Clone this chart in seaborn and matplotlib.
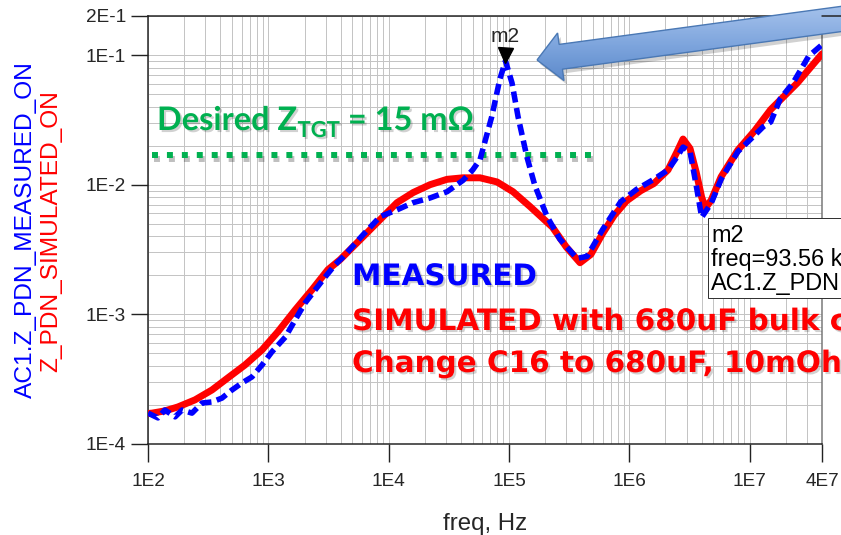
import matplotlib
matplotlib.use("Agg")
import matplotlib.pyplot as plt
import matplotlib.patheffects as pe
from matplotlib.patches import Polygon, Rectangle
from matplotlib.colors import LinearSegmentedColormap
from matplotlib.ticker import LogLocator, NullFormatter
import numpy as np
import pandas as pd
import seaborn as sns

sns.set_style("ticks")
plt.rcParams["font.family"] = ["Liberation Sans", "DejaVu Sans"]

PX = 0.72  # points per pixel at dpi=100

# ---- values ----
freq_sim = [100, 108, 138, 177, 246, 340, 462, 640, 887, 1200, 1670, 2310,
            3130, 3950, 6120, 8480, 1.175e4, 1.6e4, 2.21e4, 3.06e4, 4.15e4,
            5.75e4, 7.96e4, 1.08e5, 1.5e5, 2.3e5, 3.0e5, 3.9e5, 4.8e5, 6.0e5,
            7.5e5, 9.5e5, 1.25e6, 1.6e6, 2.1e6, 2.5e6, 2.8e6, 3.2e6, 3.6e6,
            4.0e6, 4.3e6, 4.8e6, 5.8e6, 8.0e6, 1.1e7, 1.5e7, 2.5e7, 4e7]
z_sim = [1.72e-4, 1.73e-4, 1.8e-4, 1.93e-4, 2.19e-4, 2.61e-4, 3.24e-4,
         4.07e-4, 5.32e-4, 7.33e-4, 1.08e-3, 1.55e-3, 2.21e-3, 2.64e-3,
         3.96e-3, 5.37e-3, 7.27e-3, 8.7e-3, 1.0e-2, 1.1e-2, 1.13e-2,
         1.13e-2, 1.05e-2, 8.83e-3, 6.77e-3, 4.7e-3, 3.3e-3, 2.5e-3, 2.9e-3,
         4.2e-3, 5.8e-3, 7.5e-3, 9.0e-3, 1.02e-2, 1.3e-2, 1.8e-2, 2.25e-2,
         1.9e-2, 1.25e-2, 8e-3, 6.6e-3, 7.6e-3, 1.15e-2, 1.85e-2, 2.6e-2,
         3.8e-2, 6.1e-2, 0.102]

freq_meas = [100, 121, 138, 168, 192, 232, 281, 340, 412, 499, 605, 731, 887,
             1070, 1390, 1670, 2030, 2460, 2980, 3600, 4200, 6120, 8480,
             1.175e4, 1.6e4, 2.21e4, 3.06e4, 4.15e4, 5.0e4, 5.75e4, 7.2e4,
             8.4e4, 9.356e4, 1.06e5, 1.19e5, 1.41e5, 1.64e5, 2.07e5, 2.65e5,
             3.68e5, 4.46e5, 6.0e5, 8.5e5, 1.15e6, 1.6e6, 2.1e6, 2.5e6, 2.8e6,
             3.2e6, 3.6e6, 4.0e6, 4.8e6, 5.8e6, 8.0e6, 1.1e7, 1.3e7, 1.5e7,
             1.8e7, 2.3e7, 3.1e7, 4e7]
z_meas = [1.73e-4, 1.59e-4, 1.83e-4, 1.62e-4, 1.83e-4, 1.73e-4, 2.07e-4,
          2.11e-4, 2.26e-4, 2.61e-4, 2.96e-4, 3.29e-4, 4.07e-4, 5.13e-4,
          6.7e-4, 9.05e-4, 1.23e-3, 1.55e-3, 1.95e-3, 2.42e-3, 2.78e-3,
          4.1e-3, 5.66e-3, 6.4e-3, 7.27e-3, 7.9e-3, 8.83e-3, 1.08e-2, 1.3e-2,
          1.56e-2, 3.35e-2, 6.5e-2, 0.09, 6.1e-2, 3.35e-2, 1.64e-2, 9.9e-3,
          5.7e-3, 3.8e-3, 2.7e-3, 2.8e-3, 4.5e-3, 7.4e-3, 9.2e-3, 1.1e-2,
          1.3e-2, 1.64e-2, 1.95e-2, 1.8e-2, 9.9e-3, 5.6e-3, 7.2e-3, 1.1e-2,
          1.8e-2, 2.4e-2, 2.8e-2, 3.05e-2, 4.6e-2, 6.1e-2, 9.8e-2, 0.12]

marker_freq = 93.56e3
marker_z = 0.1
ztgt_freq = [108, 4.9e5]
ztgt_z = [0.0168, 0.0168]

xtick_vals = [1e2, 1e3, 1e4, 1e5, 1e6, 1e7, 4e7]
xtick_labels = ["1E2", "1E3", "1E4", "1E5", "1E6", "1E7", "4E7"]
ytick_vals = [1e-4, 1e-3, 1e-2, 1e-1, 2e-1]
ytick_labels = ["1E-4", "1E-3", "1E-2", "1E-1", "2E-1"]

sim = pd.DataFrame({"freq": freq_sim, "z": z_sim})
meas = pd.DataFrame({"freq": freq_meas, "z": z_meas})

GREEN = "#00b050"
BLUE = "#0000ff"
RED = "#ff0000"

fig = plt.figure(figsize=(8.41, 5.35), dpi=100)
ax = fig.add_axes([148 / 841, 91 / 535, 674 / 841, 428 / 535])
ax.set_xscale("log")
ax.set_yscale("log")

sns.lineplot(data=sim, x="freq", y="z", ax=ax, color=RED, lw=5.0,
             estimator=None, sort=False, solid_capstyle="round",
             solid_joinstyle="round", zorder=3)
sns.lineplot(data=meas, x="freq", y="z", ax=ax, color=BLUE, lw=4.0,
             linestyle=(0, (2.0, 1.0)), estimator=None, sort=False, zorder=4)

ax.plot(ztgt_freq, ztgt_z, color=GREEN, lw=4.3, linestyle=(0, (1.0, 1.5)),
        zorder=2.5,
        path_effects=[pe.SimpleLineShadow(offset=(1.5, -2.5), alpha=0.25),
                      pe.Normal()])

# marker m2
ax.plot([marker_freq], [marker_z], marker="v", ms=15 * PX, color="black",
        ls="none", zorder=6)
ax.annotate("m2", xy=(marker_freq, marker_z), xytext=(0, 13 * PX),
            textcoords="offset points", ha="center", va="baseline",
            fontsize=21 * PX, zorder=6)

# axes styling
ax.set_xlim(1e2, 4e7)
ax.set_ylim(1e-4, 2e-1)
ax.set_xticks(xtick_vals, xtick_labels)
ax.set_yticks(ytick_vals, ytick_labels)
ax.xaxis.set_minor_locator(LogLocator(base=10, subs=np.arange(2, 10), numticks=60))
ax.yaxis.set_minor_locator(LogLocator(base=10, subs=np.arange(2, 10), numticks=60))
ax.xaxis.set_minor_formatter(NullFormatter())
ax.yaxis.set_minor_formatter(NullFormatter())
ax.grid(which="both", color="#c4c4c4", lw=1.0 * PX)
ax.set_axisbelow(True)
ax.tick_params(which="minor", length=0)
ax.tick_params(axis="x", which="major", length=18 * PX, width=1.4 * PX,
               pad=11 * PX, labelsize=19 * PX, color="#222222")
ax.tick_params(axis="y", which="major", length=17 * PX, width=1.4 * PX,
               pad=5 * PX, labelsize=19 * PX, color="#222222")
for side in ["left", "bottom", "top"]:
    ax.spines[side].set_color("#222222")
    ax.spines[side].set_linewidth(1.5 * PX)
ax.spines["right"].set_color("#777777")
ax.spines["right"].set_linewidth(1.5 * PX)
ax.set_xlabel("freq, Hz", fontsize=24 * PX, labelpad=23 * PX)
ax.set_ylabel("")

# overlay in pixel coordinates for annotations
ov = fig.add_axes([0, 0, 1, 1], zorder=10)
ov.set_axis_off()
ov.patch.set_alpha(0)

# top frame line of the graph window runs on past the plot area
ov.plot([822, 841], [16, 16], color="#222222", lw=1.5 * PX)

# y axis labels (two colours)
ov.text(32, 230, "AC1.Z_PDN_MEASURED_ON", rotation=90, rotation_mode="anchor",
        ha="center", va="baseline", color=BLUE, fontsize=24.5 * PX)
ov.text(57, 231, "Z_PDN_SIMULATED_ON", rotation=90, rotation_mode="anchor",
        ha="center", va="baseline", color=RED, fontsize=24.5 * PX)

shadow = [pe.withSimplePatchShadow(offset=(1.5, -1.5), shadow_rgbFace="black",
                                   alpha=0.18)]

# target label
lato = ["Lato", "DejaVu Sans"]
t1 = ov.text(157, 130, "Desired Z", color=GREEN, fontsize=32.5 * PX,
             fontweight="bold", family=lato, va="baseline", path_effects=shadow)
t2 = ov.annotate("TGT", xy=(1, 0), xycoords=t1, xytext=(0.5 * PX, -6 * PX),
                 textcoords="offset points", va="bottom", color=GREEN,
                 fontsize=22 * PX, fontweight="bold", family=lato,
                 path_effects=shadow)
ov.annotate(" = 15 m\u03a9", xy=(1, 0), xycoords=t2, xytext=(0, 6 * PX),
            textcoords="offset points", va="bottom", color=GREEN,
            fontsize=32.5 * PX, fontweight="bold", family=lato,
            path_effects=shadow)

big = dict(fontsize=29.5 * PX, fontweight="bold", family=["DejaVu Sans"],
           va="baseline", path_effects=shadow)
ov.text(352, 285, "MEASURED", color=BLUE, **big)
ov.text(352, 330, "SIMULATED with 680uF bulk c", color=RED, **big)
ov.text(352, 372, "Change C16 to 680uF, 10mOhm", color=RED, **big)

# marker readout box
ov.add_patch(Rectangle((708, 218), 200, 80, facecolor="white",
                       edgecolor="#333333", lw=1.0 * PX))
box_font = dict(fontsize=23.5 * PX, color="black", va="baseline", ha="left")
ov.text(711, 242, "m2", **box_font)
ov.text(711, 266, "freq=93.56 k", **box_font)
ov.text(711, 290, "AC1.Z_PDN", **box_font)

# big callout arrow
tip = np.array([537.0, 60.0])
u = np.array([304.0, -41.0])
u = u / np.linalg.norm(u)
n = np.array([-u[1], u[0]])
hl, hw, sw, tail_len = 24, 24, 12.5, 340
base = tip + hl * u
end = tip + tail_len * u
pts = np.array([tip, base + hw * n, base + sw * n, end + sw * n,
                end - sw * n, base - sw * n, base - hw * n])
ov.add_patch(Polygon(pts + np.array([3, 4]), closed=True, facecolor="black",
                     alpha=0.18, edgecolor="none"))
arrow = Polygon(pts, closed=True, facecolor="none", edgecolor="#4a78b4", lw=1.0)
ov.add_patch(arrow)
grad_cmap = LinearSegmentedColormap.from_list("arr", ["#aac6ee", "#7ba3dc", "#4f7fc4"])
grad = np.linspace(0, 1, 100).reshape(-1, 1)
im = ov.imshow(grad, extent=(520, 880, 95, 0), aspect="auto", cmap=grad_cmap,
               origin="upper", zorder=1)
im.set_clip_path(arrow)
arrow.set_zorder(2)

ov.set_xlim(0, 841)
ov.set_ylim(535, 0)

fig.savefig("out.png", dpi=100)
